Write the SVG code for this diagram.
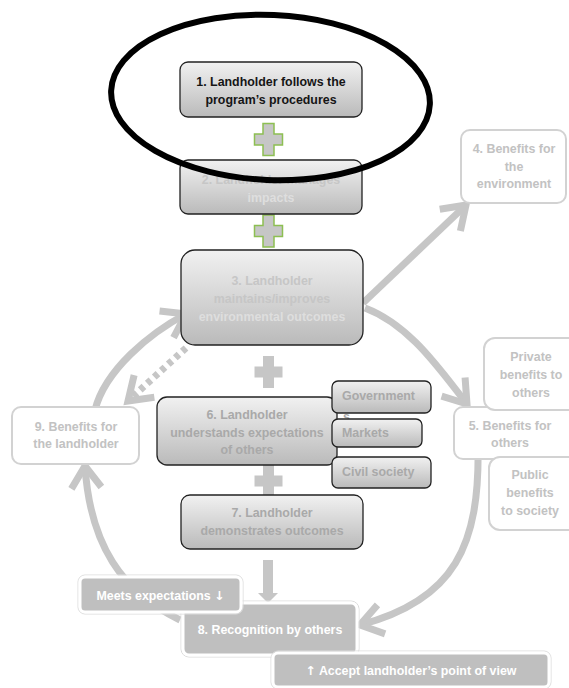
<svg xmlns="http://www.w3.org/2000/svg" width="569" height="688" viewBox="0 0 569 688">
  <defs>
    <linearGradient id="boxFill" x1="0" y1="0" x2="0" y2="1">
      <stop offset="0" stop-color="#f1f1f1"/>
      <stop offset="1" stop-color="#bababa"/>
    </linearGradient>
    <marker id="chev" markerUnits="userSpaceOnUse" markerWidth="60" markerHeight="60" viewBox="-30 -30 60 60" refX="0" refY="0" orient="auto" overflow="visible">
      <path d="M -22 -15 L 0 0 L -22 15" fill="none" stroke="#c6c6c6" stroke-width="7" stroke-dasharray="none"/>
    </marker>
    <path id="plus" d="M -5.5 -16 H 5.5 V -5.5 H 14 V 5.5 H 5.5 V 16 H -5.5 V 5.5 H -14 V -5.5 H -5.5 Z"/>
    <style>
      text { font-family: "Liberation Sans", Arial, sans-serif; font-weight: bold; font-size: 12.4px; }
      .c { text-anchor: middle; }
      .arw { font-family: "DejaVu Sans", sans-serif; }
      .step { fill: url(#boxFill); stroke: #222; stroke-width: 1.3; }
      .outcome { fill: #ffffff; stroke: #d2d2d2; stroke-width: 2; }
      .tag { fill: #bfbfbf; stroke: #ffffff; stroke-width: 3; }
      .halo { fill: none; stroke: #dcdcdc; stroke-width: 1; }
      .dark { fill: #151515; }
      .faintHi { fill: #c6c6c6; }
      .faintLo { fill: #dedede; }
      .mid { fill: #a9a9a9; }
      .ghost { fill: #c2c2c2; }
      .white { fill: #ffffff; }
      .link { fill: none; stroke: #c6c6c6; stroke-width: 7; marker-end: url(#chev); }
      .dots { stroke-dasharray: 5 4.5; }
      .plusG { fill: #c6c6c6; stroke: #8dbf52; stroke-width: 1.5; }
      .plusN { fill: #c6c6c6; }
    </style>
  </defs>

  <!-- connectors -->
  <g id="connectors">
    <path class="link" d="M 363 303 L 466 205"/>
    <path class="link" d="M 365 308 C 410 325, 440 370, 467 404"/>
    <path class="link" d="M 478 445 C 480 545, 455 600, 360 625"/>
    <path class="link" d="M 180 620 C 122 592, 90 545, 85 466"/>
    <path class="link" d="M 95 410 C 105 370, 150 333, 186 314"/>
    <path class="link dots" d="M 186 348 L 128 401"/>
    <path d="M 263 560 H 273 V 593 H 278 L 268 603 L 258 593 H 263 Z" fill="#c6c6c6"/>
  </g>

  <!-- plus signs joining the steps -->
  <g id="joins">
    <use href="#plus" class="plusG" x="268.5" y="139.5"/>
    <use href="#plus" class="plusG" x="268.5" y="231"/>
    <use href="#plus" class="plusN" x="268.5" y="372"/>
    <use href="#plus" class="plusN" x="268.5" y="481"/>
  </g>

  <g id="n1">
    <rect class="step" x="180" y="62" width="182" height="55" rx="8"/>
    <text class="c dark" x="271" y="86">1. Landholder follows the</text>
    <text class="c dark" x="271" y="104">program’s procedures</text>
  </g>

  <g id="n2">
    <rect class="step" x="180" y="160" width="182" height="54" rx="8"/>
    <text class="c faintHi" x="271" y="184">2. Landholder manages</text>
    <text class="c faintLo" x="271" y="202">impacts</text>
  </g>

  <g id="n3">
    <rect class="step" x="181" y="250" width="182" height="95" rx="14"/>
    <text class="c faintHi" x="272" y="285">3. Landholder</text>
    <text class="c faintHi" x="272" y="303">maintains/improves</text>
    <text class="c faintLo" x="272" y="321">environmental outcomes</text>
  </g>

  <g id="n4">
    <rect class="outcome" x="461" y="130" width="105" height="73" rx="9"/>
    <text class="c ghost" x="514" y="153">4. Benefits for</text>
    <text class="c ghost" x="514" y="171">the</text>
    <text class="c ghost" x="514" y="188">environment</text>
  </g>

  <g id="n5">
    <rect class="outcome" x="454" y="407" width="130" height="52" rx="9"/>
    <text class="c ghost" x="510" y="430">5. Benefits for</text>
    <text class="c ghost" x="510" y="447">others</text>
  </g>

  <g id="n5a">
    <rect class="outcome" x="484" y="338" width="100" height="72" rx="11"/>
    <text class="c ghost" x="531" y="361">Private</text>
    <text class="c ghost" x="531" y="379">benefits to</text>
    <text class="c ghost" x="531" y="397">others</text>
  </g>

  <g id="n5b">
    <rect class="outcome" x="489" y="457" width="95" height="73" rx="11"/>
    <text class="c ghost" x="530" y="479">Public</text>
    <text class="c ghost" x="530" y="497">benefits</text>
    <text class="c ghost" x="530" y="515">to society</text>
  </g>

  <g id="n6">
    <rect class="step" x="157" y="397" width="180" height="68" rx="10"/>
    <text class="c mid" x="247" y="419">6. Landholder</text>
    <text class="c mid" x="247" y="437">understands expectations</text>
    <text class="c mid" x="247" y="454">of others</text>
  </g>

  <g id="n6a">
    <rect class="step" x="332" y="381" width="99" height="32" rx="6"/>
    <text class="mid" x="342" y="400">Government</text>
    <text class="mid" x="343" y="421">s</text>
  </g>

  <g id="n6b">
    <rect class="step" x="332" y="419" width="90" height="28" rx="6"/>
    <text class="mid" x="342" y="437">Markets</text>
  </g>

  <g id="n6c">
    <rect class="step" x="332" y="457" width="99" height="31" rx="6"/>
    <text class="mid" x="342" y="476">Civil society</text>
  </g>

  <g id="n7">
    <rect class="step" x="181" y="495" width="182" height="54" rx="9"/>
    <text class="c mid" x="272" y="517">7. Landholder</text>
    <text class="c mid" x="272" y="535">demonstrates outcomes</text>
  </g>

  <g id="n9">
    <rect class="outcome" x="12" y="407" width="127" height="57" rx="9"/>
    <text class="c ghost" x="76" y="431">9. Benefits for</text>
    <text class="c ghost" x="76" y="448">the landholder</text>
  </g>

  <g id="n8">
    <rect class="halo" x="181" y="601" width="178" height="56" rx="8"/>
    <rect class="tag" x="183" y="603" width="174" height="52" rx="6"/>
    <text class="c white" x="270" y="634">8. Recognition by others</text>
  </g>

  <g id="tagMeets">
    <rect class="halo" x="78" y="575" width="165" height="39" rx="7"/>
    <rect class="tag" x="80" y="577" width="161" height="35" rx="5"/>
    <text class="c white" x="160.5" y="600">Meets expectations <tspan class="arw">↓</tspan></text>
  </g>

  <g id="tagAccept">
    <rect class="halo" x="271" y="651" width="280" height="38" rx="7"/>
    <rect class="tag" x="273" y="653" width="276" height="34" rx="5"/>
    <text class="c white" x="411" y="675"><tspan class="arw">↑</tspan> Accept landholder’s point of view</text>
  </g>

  <!-- highlight ring round the first step -->
  <ellipse id="focus" cx="270.5" cy="97.5" rx="159.5" ry="82.5" transform="rotate(2.5 270.5 97.5)" fill="none" stroke="#000" stroke-width="6"/>
</svg>
